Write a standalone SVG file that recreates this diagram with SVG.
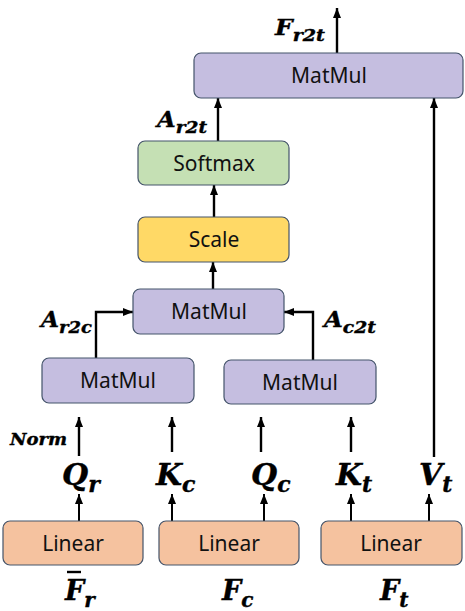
<svg xmlns="http://www.w3.org/2000/svg" width="465" height="611" viewBox="0 0 465 611">
<defs>
<marker id="ah" markerUnits="userSpaceOnUse" markerWidth="10" markerHeight="10" viewBox="0 0 10 10" refX="10" refY="5" orient="auto">
<path d="M0,1 L10,5 L0,9 Z" fill="#000"/>
</marker>
<style>
.box{stroke:#44546a;stroke-width:1.2}
.mm{fill:#c5bee0}
.sm{fill:#c5e0b4}
.sc{fill:#ffd966}
.li{fill:#f5c29f}
.lbl{font-family:"Noto Sans","Open Sans",sans-serif;font-size:21px;fill:#111;text-anchor:middle}
.m{font-family:"DejaVu Serif","Liberation Serif",serif;font-weight:bold;font-style:italic;fill:#000;stroke:#000;stroke-width:0.4}
.c{fill:none;stroke:#000;stroke-width:2.4;marker-end:url(#ah)}
.cs{fill:none;stroke:#000;stroke-width:2;marker-end:url(#ah)}
</style>
</defs>
<g id="connectors">
<line class="c" x1="337" y1="53" x2="337" y2="8"/>
<line class="c" x1="218" y1="141" x2="218" y2="98"/>
<line class="c" x1="214" y1="217" x2="214" y2="185"/>
<line class="c" x1="213" y1="289" x2="213" y2="262"/>
<path class="c" d="M96 358 V312 H133"/>
<path class="c" d="M313 360 V312 H284"/>
<line class="c" x1="79" y1="456" x2="79" y2="417"/>
<line class="c" x1="172" y1="452" x2="172" y2="417"/>
<line class="c" x1="261" y1="452" x2="261" y2="417"/>
<line class="c" x1="351" y1="452" x2="351" y2="417"/>
<line class="c" x1="434" y1="457" x2="434" y2="98"/>
<line class="cs" x1="79" y1="521" x2="79" y2="494"/>
<line class="cs" x1="172" y1="521" x2="172" y2="494"/>
<line class="cs" x1="264" y1="521" x2="264" y2="494"/>
<line class="cs" x1="351" y1="521" x2="351" y2="494"/>
<line class="cs" x1="429" y1="521" x2="429" y2="494"/>
</g>
<g id="matmul-top"><rect class="box mm" x="194" y="53" width="269" height="45" rx="7"/><text class="lbl" x="329" y="83">MatMul</text></g>
<g id="softmax"><rect class="box sm" x="138" y="141" width="151" height="44" rx="7"/><text class="lbl" x="214" y="171">Softmax</text></g>
<g id="scale"><rect class="box sc" x="138" y="217" width="151" height="45" rx="7"/><text class="lbl" x="214" y="247">Scale</text></g>
<g id="matmul-mid"><rect class="box mm" x="133" y="289" width="151" height="45" rx="7"/><text class="lbl" x="209" y="319">MatMul</text></g>
<g id="matmul-left"><rect class="box mm" x="42" y="358" width="152" height="45" rx="7"/><text class="lbl" x="118" y="388">MatMul</text></g>
<g id="matmul-right"><rect class="box mm" x="224" y="360" width="152" height="44" rx="7"/><text class="lbl" x="300" y="390">MatMul</text></g>
<g id="linear-1"><rect class="box li" x="3" y="521" width="140" height="44" rx="7"/><text class="lbl" x="73" y="551">Linear</text></g>
<g id="linear-2"><rect class="box li" x="159" y="521" width="140" height="44" rx="7"/><text class="lbl" x="229" y="551">Linear</text></g>
<g id="linear-3"><rect class="box li" x="321" y="521" width="141" height="44" rx="7"/><text class="lbl" x="391" y="551">Linear</text></g>
<g id="labels">
<text class="m" x="275" y="35" font-size="22" textLength="50" lengthAdjust="spacingAndGlyphs">F<tspan font-size="17" dy="6">r2t</tspan></text>
<text class="m" x="157" y="127" font-size="22" textLength="50" lengthAdjust="spacingAndGlyphs">A<tspan font-size="17" dy="6">r2t</tspan></text>
<text class="m" x="41" y="327" font-size="22" textLength="51" lengthAdjust="spacingAndGlyphs">A<tspan font-size="17" dy="6">r2c</tspan></text>
<text class="m" x="324" y="327" font-size="22" textLength="52" lengthAdjust="spacingAndGlyphs">A<tspan font-size="17" dy="6">c2t</tspan></text>
<text class="m" x="10" y="445" font-size="17" textLength="57" lengthAdjust="spacingAndGlyphs">Norm</text>
<text class="m" x="62" y="485" font-size="30">Q<tspan font-size="22" dy="7">r</tspan></text>
<text class="m" x="156" y="485" font-size="30">K<tspan font-size="22" dy="7">c</tspan></text>
<text class="m" x="251" y="485" font-size="30">Q<tspan font-size="22" dy="7">c</tspan></text>
<text class="m" x="336" y="485" font-size="30">K<tspan font-size="22" dy="7">t</tspan></text>
<text class="m" x="419" y="485" font-size="30">V<tspan font-size="22" dy="7">t</tspan></text>
<line x1="67" y1="572" x2="81" y2="572" stroke="#000" stroke-width="2.4"/>
<text class="m" x="65" y="600" font-size="27">F<tspan font-size="20" dy="7">r</tspan></text>
<text class="m" x="222" y="600" font-size="27">F<tspan font-size="20" dy="7">c</tspan></text>
<text class="m" x="380" y="600" font-size="27">F<tspan font-size="20" dy="7">t</tspan></text>
</g>
</svg>
